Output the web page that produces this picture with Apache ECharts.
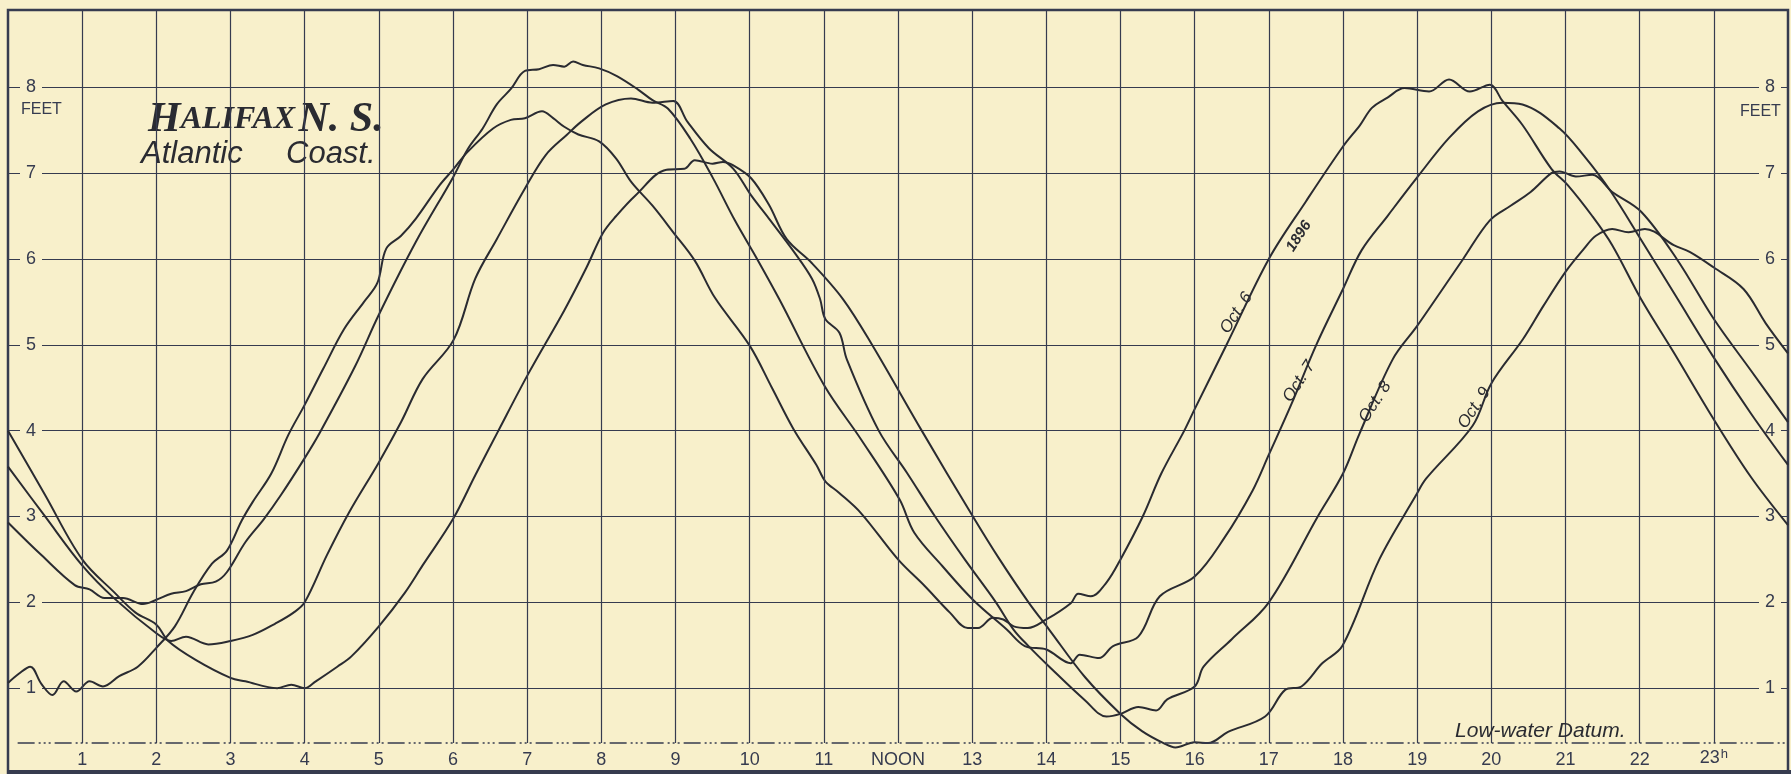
<!DOCTYPE html>
<html>
<head>
<meta charset="utf-8">
<title>Halifax N.S. - tide curves Oct. 6-9, 1896</title>
<script src="https://cdn.jsdelivr.net/npm/echarts@6/dist/echarts.min.js"></script>
<style>
  html, body { margin: 0; padding: 0; background: #f8f0cb; }
  #chart { width: 1791px; height: 774px; }
</style>
</head>
<body>
<div id="chart"></div>
<script>
  // height of water in feet above low-water datum, by hour of the day
  var oct6 = [
    [0, 1.06], [0.15, 1.17], [0.3, 1.25], [0.45, 1.05], [0.6, 0.92], [0.75, 1.08], [0.92, 0.96],
    [1.1, 1.08], [1.28, 1.02], [1.5, 1.14], [1.75, 1.25], [2.0, 1.47], [2.25, 1.72], [2.5, 2.12],
    [2.75, 2.45], [2.95, 2.6], [3.15, 2.95], [3.3, 3.17], [3.55, 3.5], [3.78, 3.95], [4.0, 4.3],
    [4.25, 4.72], [4.53, 5.18], [4.8, 5.5], [4.98, 5.72], [5.1, 6.12], [5.3, 6.27], [5.5, 6.47],
    [5.82, 6.86], [6.0, 7.04], [6.2, 7.25], [6.54, 7.52], [6.78, 7.62], [6.97, 7.64], [7.2, 7.72],
    [7.35, 7.64], [7.5, 7.54], [7.69, 7.45], [7.97, 7.37], [8.2, 7.17], [8.4, 6.9], [8.69, 6.62],
    [8.97, 6.31], [9.26, 5.98], [9.53, 5.55], [10.0, 4.99], [10.3, 4.5], [10.59, 4.02], [10.9, 3.6],
    [11.02, 3.41], [11.2, 3.28], [11.5, 3.04], [12.0, 2.5], [12.36, 2.19], [12.7, 1.88], [12.94, 1.7],
    [13.08, 1.7], [13.28, 1.82], [13.42, 1.8], [13.56, 1.72], [13.75, 1.7], [14.0, 1.8], [14.33, 1.99],
    [14.43, 2.1], [14.6, 2.07], [14.81, 2.23], [15.0, 2.5], [15.3, 3.0], [15.55, 3.5], [15.86, 4.0],
    [16.0, 4.25], [16.43, 5.0], [17.0, 6.0], [17.5, 6.67], [18.0, 7.31], [18.23, 7.56], [18.39, 7.76],
    [18.6, 7.88], [18.83, 7.99], [19.16, 7.95], [19.43, 8.09], [19.71, 7.95], [19.98, 8.03],
    [20.15, 7.84], [20.42, 7.56], [20.81, 7.05], [21.03, 6.86], [21.36, 6.5], [21.63, 6.16],
    [22.02, 5.53], [22.46, 4.91], [23.0, 4.13], [23.5, 3.46], [24, 2.9]
  ];
  var oct7 = [
    [0, 2.93], [0.45, 2.55], [0.9, 2.2], [1.1, 2.15], [1.3, 2.05], [1.55, 2.05], [1.82, 1.98],
    [2.0, 2.03], [2.2, 2.1], [2.4, 2.13], [2.6, 2.21], [2.8, 2.24], [2.95, 2.35], [3.2, 2.7],
    [3.45, 2.97], [3.68, 3.25], [4.0, 3.68], [4.2, 3.97], [4.68, 4.75], [5.0, 5.35], [5.5, 6.2],
    [6.0, 6.95], [6.2, 7.28], [6.4, 7.52], [6.59, 7.8], [6.78, 7.98], [6.97, 8.19], [7.16, 8.21],
    [7.35, 8.26], [7.5, 8.24], [7.62, 8.3], [7.75, 8.26], [7.97, 8.22], [8.21, 8.13], [8.5, 7.97],
    [8.69, 7.85], [8.9, 7.75], [9.2, 7.4], [9.5, 6.95], [9.8, 6.45], [10.1, 6.0], [10.4, 5.53],
    [11.01, 4.52], [11.5, 3.9], [12.02, 3.2], [12.22, 2.81], [12.6, 2.42], [13.01, 2.03], [13.47, 1.68],
    [13.71, 1.49], [14.0, 1.45], [14.33, 1.29], [14.45, 1.39], [14.71, 1.35], [14.9, 1.49], [15.24, 1.6],
    [15.53, 2.07], [16.0, 2.3], [16.4, 2.75], [16.78, 3.3], [17.0, 3.72], [17.3, 4.3], [17.64, 5.0],
    [18.0, 5.65], [18.25, 6.1], [18.6, 6.5], [19.0, 6.95], [19.43, 7.41], [19.82, 7.72], [20.15, 7.82],
    [20.42, 7.8], [20.92, 7.52], [21.25, 7.2], [21.6, 6.8], [22.0, 6.25], [22.5, 5.55], [23.0, 4.85],
    [23.5, 4.2], [24, 3.6]
  ];
  var oct8 = [
    [0, 3.58], [0.5, 3.0], [1.0, 2.43], [1.44, 2.04], [2.0, 1.64], [2.2, 1.55], [2.4, 1.6], [2.7, 1.51],
    [3.0, 1.55], [3.3, 1.62], [3.6, 1.75], [3.85, 1.88], [4.0, 2.0], [4.3, 2.55], [4.6, 3.05],
    [5.0, 3.63], [5.3, 4.1], [5.59, 4.6], [6.01, 5.06], [6.3, 5.77], [6.59, 6.23], [6.97, 6.82],
    [7.25, 7.21], [7.54, 7.45], [7.73, 7.6], [8.06, 7.8], [8.4, 7.87], [8.69, 7.82], [8.97, 7.84],
    [9.16, 7.6], [9.45, 7.29], [9.78, 7.05], [10.02, 6.74], [10.26, 6.47], [10.6, 6.08], [10.84, 5.77],
    [10.95, 5.53], [11.02, 5.3], [11.21, 5.14], [11.31, 4.83], [11.74, 4.0], [12.12, 3.51], [12.5, 3.0],
    [12.9, 2.5], [13.32, 2.0], [13.56, 1.68], [13.76, 1.49], [14.04, 1.25], [14.52, 0.86], [14.81, 0.67],
    [15.0, 0.7], [15.24, 0.78], [15.48, 0.74], [15.63, 0.87], [16.0, 1.02], [16.12, 1.25], [16.5, 1.57],
    [17.0, 2.0], [17.66, 3.0], [18.0, 3.5], [18.22, 3.96], [18.67, 4.83], [19.0, 5.22], [19.62, 6.0],
    [19.98, 6.45], [20.26, 6.62], [20.53, 6.78], [20.81, 7.0], [20.92, 7.02], [21.14, 6.96],
    [21.36, 6.98], [21.63, 6.78], [22.02, 6.55], [22.5, 6.0], [23.0, 5.3], [23.5, 4.7], [24, 4.1]
  ];
  var oct9 = [
    [0, 4.0], [0.5, 3.25], [1.0, 2.5], [1.44, 2.11], [1.72, 1.88], [2.0, 1.74], [2.16, 1.55],
    [2.53, 1.33], [3.0, 1.12], [3.2, 1.08], [3.63, 1.0], [3.82, 1.04], [4.0, 1.0], [4.15, 1.08],
    [4.44, 1.25], [4.63, 1.37], [5.0, 1.72], [5.35, 2.11], [5.59, 2.43], [6.0, 2.97], [6.3, 3.48],
    [6.6, 3.98], [7.02, 4.67], [7.5, 5.4], [7.8, 5.9], [8.02, 6.3], [8.2, 6.5], [8.46, 6.74],
    [8.88, 7.04], [9.12, 7.05], [9.26, 7.15], [9.5, 7.11], [9.64, 7.13], [9.78, 7.09], [10.02, 6.94],
    [10.26, 6.63], [10.5, 6.23], [10.84, 5.95], [11.26, 5.53], [11.65, 5.0], [12.32, 4.0], [13.01, 3.0],
    [13.37, 2.5], [13.76, 2.0], [14.04, 1.68], [14.52, 1.13], [15.0, 0.7], [15.29, 0.5], [15.58, 0.36],
    [15.74, 0.31], [16.0, 0.37], [16.18, 0.36], [16.45, 0.49], [16.95, 0.67], [17.22, 0.98],
    [17.44, 1.02], [17.72, 1.29], [17.99, 1.49], [18.49, 2.5], [18.98, 3.24], [19.12, 3.44],
    [19.75, 4.06], [20.0, 4.55], [20.43, 5.07], [20.7, 5.45], [21.0, 5.85], [21.25, 6.12],
    [21.41, 6.27], [21.63, 6.35], [21.85, 6.31], [22.07, 6.35], [22.46, 6.16], [22.68, 6.08],
    [23.0, 5.9], [23.4, 5.65], [23.7, 5.25], [24, 4.9]
  ];

  var hourLabels = ['', '1', '2', '3', '4', '5', '6', '7', '8', '9', '10', '11', 'NOON',
    '13', '14', '15', '16', '17', '18', '19', '20', '21', '22', '23'];
  var gridHours = [1, 2, 3, 4, 5, 6, 7, 8, 9, 10, 11, 12, 13, 14, 15, 16, 17, 18, 19, 20, 21, 22, 23];
  var datumFeet = 0.36;   // low-water datum line
  var topFeet = 8.9;      // top edge of the plate

  var PAPER = '#f8f0cb';
  var GRID_INK = '#363b4f';
  var CURVE_INK = '#2a2b31';

  // water height on a curve at hour h (straight between read points), used to pin the date labels
  function feetAt(curve, h) {
    for (var i = 1; i < curve.length; i++) {
      if (curve[i][0] >= h) {
        var a = curve[i - 1], b = curve[i];
        return a[1] + (b[1] - a[1]) * (h - a[0]) / (b[0] - a[0]);
      }
    }
    return curve[curve.length - 1][1];
  }

  function dateLabel(curve, h, text, offset, style) {
    return {
      coord: [h, feetAt(curve, h)],
      symbol: 'circle',
      symbolSize: 0,
      label: Object.assign({
        show: true,
        formatter: text,
        position: 'inside',
        rotate: 57,
        offset: offset,
        color: CURVE_INK,
        fontFamily: 'Liberation Sans',
        fontStyle: 'italic',
        fontSize: 17
      }, style || {})
    };
  }

  function tideSeries(name, curve, labels) {
    return {
      name: name,
      type: 'line',
      data: curve,
      smooth: 0.35,
      showSymbol: false,
      z: 3,
      lineStyle: {color: CURVE_INK, width: 2},
      markPoint: labels ? {silent: true, data: labels, animation: false} : undefined
    };
  }

  var yLabel = {
    inside: true,
    color: GRID_INK,
    fontFamily: 'Liberation Sans',
    fontSize: 18,
    backgroundColor: PAPER,
    padding: [0, 6, 0, 6],
    showMinLabel: false,
    showMaxLabel: false,
    formatter: function (v) {
      return (v > 0 && v === Math.round(v)) ? String(v) : '';
    }
  };

  var chart = echarts.init(document.getElementById('chart'));
  var option = {
    backgroundColor: PAPER,
    animation: false,
    grid: {
      left: 8, top: 10, width: 1790, height: 764,
      show: true, borderColor: GRID_INK, borderWidth: 2.5
    },
    xAxis: {
      type: 'value', min: 0, max: 24, interval: 1,
      axisLine: {show: false},
      axisTick: {show: false},
      splitLine: {show: false},
      axisLabel: {
        inside: true,
        margin: 5,
        color: GRID_INK,
        fontFamily: 'Liberation Sans',
        fontSize: 18,
        formatter: function (v) {
          var t = hourLabels[v] || '';
          return v === 23 ? t + '{h|h}' : t;
        },
        rich: {h: {fontSize: 13, verticalAlign: 'top', padding: [0, 0, 8, 1], color: GRID_INK}}
      }
    },
    yAxis: [{
      type: 'value', min: 0, max: topFeet, interval: 1, position: 'left',
      axisLine: {show: false}, axisTick: {show: false},
      splitLine: {lineStyle: {color: GRID_INK, width: 1.2}},
      axisLabel: Object.assign({margin: 12}, yLabel)
    }, {
      type: 'value', min: 0, max: topFeet, interval: 1, position: 'right',
      axisLine: {show: false}, axisTick: {show: false},
      splitLine: {show: false},
      axisLabel: Object.assign({margin: 7}, yLabel)
    }],
    graphic: [
      {
        type: 'text', left: 148, top: 99,
        style: {
          text: '{b|H}{s|ALIFAX} {b|N. S.}',
          rich: {
            b: {fontSize: 42, fontFamily: 'Liberation Serif', fontStyle: 'italic', fontWeight: 'bold', fill: CURVE_INK},
            s: {fontSize: 32, fontFamily: 'Liberation Serif', fontStyle: 'italic', fontWeight: 'bold', fill: CURVE_INK}
          }
        }
      },
      {
        type: 'text', left: 141, top: 139,
        style: {text: 'Atlantic', fontSize: 31, fontFamily: 'Liberation Sans', fontStyle: 'italic', fill: CURVE_INK}
      },
      {
        type: 'text', left: 286, top: 139,
        style: {text: 'Coast.', fontSize: 31, fontFamily: 'Liberation Sans', fontStyle: 'italic', fill: CURVE_INK}
      },
      {
        type: 'text', left: 21, top: 102,
        style: {text: 'FEET', fontSize: 16, fontFamily: 'Liberation Sans', fill: GRID_INK}
      },
      {
        type: 'text', left: 1740, top: 104,
        style: {text: 'FEET', fontSize: 16, fontFamily: 'Liberation Sans', fill: GRID_INK}
      },
      {
        // heavy bottom rule of the plate
        type: 'rect', left: 8, top: 770, z: 50,
        shape: {width: 1783, height: 4},
        style: {fill: GRID_INK}
      }
    ],
    series: [
      {
        // hour lines and the low-water datum
        type: 'line', data: [], z: 1, silent: true,
        markLine: {
          silent: true, symbol: ['none', 'none'], animation: false,
          label: {show: false},
          lineStyle: {color: GRID_INK, width: 1.2, type: 'solid'},
          data: gridHours.map(function (h) {
            return [{coord: [h, datumFeet]}, {coord: [h, topFeet]}];
          }).concat([[
            {coord: [0.13, datumFeet], lineStyle: {type: [17, 4, 2, 3, 2, 3, 2, 4], width: 1.5}},
            {coord: [24, datumFeet]}
          ]])
        },
        markPoint: {
          silent: true, animation: false,
          data: [{
            coord: [20.66, datumFeet], symbol: 'circle', symbolSize: 0,
            label: {
              show: true, formatter: 'Low-water Datum.', position: 'inside', offset: [0, -12],
              color: CURVE_INK, fontFamily: 'Liberation Sans', fontStyle: 'italic', fontSize: 21
            }
          }]
        }
      },
      tideSeries('Oct. 6', oct6, [
        dateLabel(oct6, 16.64, 'Oct. 6', [-3, -5]),
        dateLabel(oct6, 17.28, '1896', [-3, 13], {fontSize: 15, fontWeight: 'bold'})
      ]),
      tideSeries('Oct. 7', oct7, [dateLabel(oct7, 17.39, 'Oct. 7', [7, -3])]),
      tideSeries('Oct. 8', oct8, [dateLabel(oct8, 18.44, 'Oct. 8', [-4, 2])]),
      tideSeries('Oct. 9', oct9, [dateLabel(oct9, 19.83, 'Oct. 9', [1, -6])])
    ]
  };
  chart.setOption(option);
</script>
</body>
</html>
